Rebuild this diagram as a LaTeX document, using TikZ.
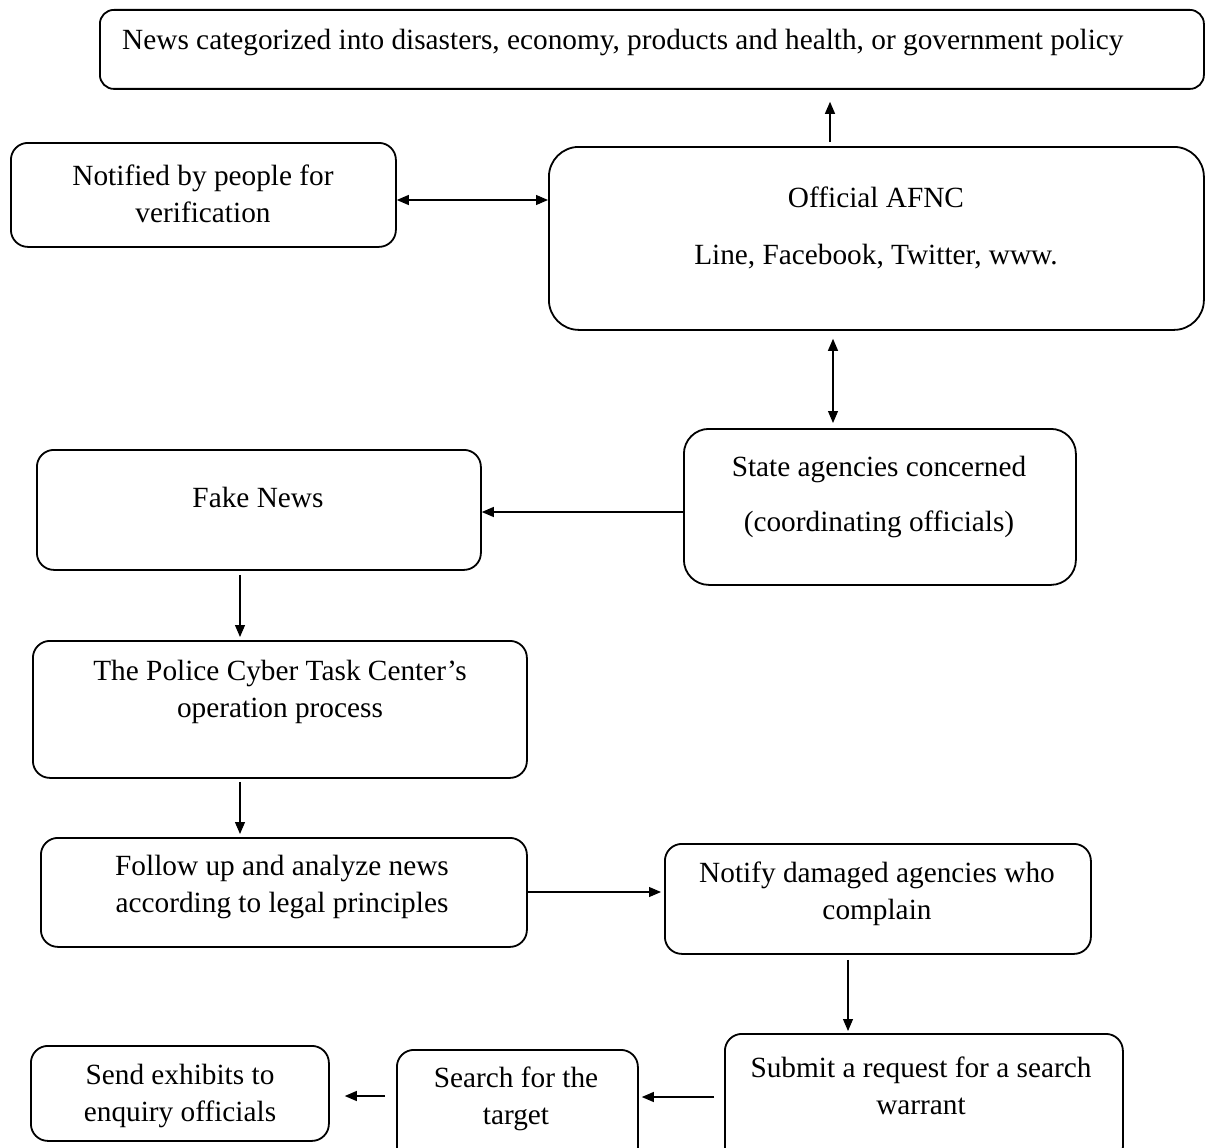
\documentclass[tikz,border=0pt]{standalone}
\usepackage{fontspec}
\setmainfont{Liberation Serif}
\usetikzlibrary{arrows.meta}
\begin{document}
\begin{tikzpicture}[x=1pt,y=-1pt,
  box/.style={draw, line width=1.8pt, rounded corners=17pt, inner sep=0pt, anchor=north west},
  txt/.style={font=\fontsize{29.3}{36.5}\selectfont, align=center, inner sep=0pt},
  conn/.style={line width=1.1pt, -{Triangle[length=12pt,width=10pt]}},
  bconn/.style={line width=1.1pt, {Triangle[length=12pt,width=10pt]}-{Triangle[length=12pt,width=10pt]}}]
\useasboundingbox (0,0) rectangle (1205,1148);
% boxes
\node[box, minimum width=1104pt, minimum height=79pt, rounded corners=14pt] (top) at (99,9) {};
\node[box, minimum width=385pt, minimum height=104pt] (notif) at (10,142) {};
\node[box, minimum width=655pt, minimum height=183pt, rounded corners=30pt] (afnc) at (548,146) {};
\node[box, minimum width=392pt, minimum height=156pt, rounded corners=25pt] (state) at (683,428) {};
\node[box, minimum width=444pt, minimum height=120pt] (fake) at (36,449) {};
\node[box, minimum width=494pt, minimum height=137pt] (police) at (32,640) {};
\node[box, minimum width=486pt, minimum height=109pt] (follow) at (40,837) {};
\node[box, minimum width=426pt, minimum height=110pt] (notify) at (664,843) {};
\node[box, minimum width=398pt, minimum height=130pt] (submit) at (724,1033) {};
\node[box, minimum width=241pt, minimum height=115pt] (search) at (396,1049) {};
\node[box, minimum width=298pt, minimum height=95pt] (send) at (30,1045) {};
% texts
\node[txt, anchor=west] (topt) at (122,42) {News categorized into disasters, economy, products and health, or government policy};
\node[txt] (notift) at (203,194) {Notified by people for\\verification};
\node[txt] (afnct) at (876,228) {Official AFNC\\[20pt]Line, Facebook, Twitter, www.};
\node[txt] (statet) at (879,497) {State agencies concerned\\[19pt](coordinating officials)};
\node[txt] (faket) at (258,497) {Fake News};
\node[txt] (policet) at (280,692) {The Police Cyber Task Center’s\\operation process};
\node[txt] (followt) at (282,887) {Follow up and analyze news\\according to legal principles};
\node[txt] (notifyt) at (877,894) {Notify damaged agencies who\\complain};
\node[txt] (submitt) at (921,1086) {Submit a request for a search\\warrant};
\node[txt] (searcht) at (516,1099) {Search for the\\target};
\node[txt] (sendt) at (180,1096) {Send exhibits to\\enquiry officials};
% connectors
\draw[conn, shorten <=4pt, shorten >=12pt] (830,0 |- afnc.north) -- (830,0 |- top.south);
\draw[bconn] (notif.east |- 0,200) -- (afnc.west |- 0,200);
\draw[bconn, shorten <=8pt, shorten >=5pt] (833,0 |- afnc.south) -- (833,0 |- state.north);
\draw[conn] (state.west |- 0,512) -- (fake.east |- 0,512);
\draw[conn, shorten <=4pt, shorten >=3pt] (240,0 |- fake.south) -- (240,0 |- police.north);
\draw[conn, shorten <=3pt, shorten >=3pt] (240,0 |- police.south) -- (240,0 |- follow.north);
\draw[conn, shorten >=3pt] (follow.east |- 0,892) -- (notify.west |- 0,892);
\draw[conn, shorten <=5pt, shorten >=2pt] (848,0 |- notify.south) -- (848,0 |- submit.north);
\draw[conn, shorten <=10pt, shorten >=3pt] (submit.west |- 0,1097) -- (search.east |- 0,1097);
\draw[conn, shorten <=11pt, shorten >=15pt] (search.west |- 0,1096) -- (send.east |- 0,1096);
\end{tikzpicture}
\end{document}
